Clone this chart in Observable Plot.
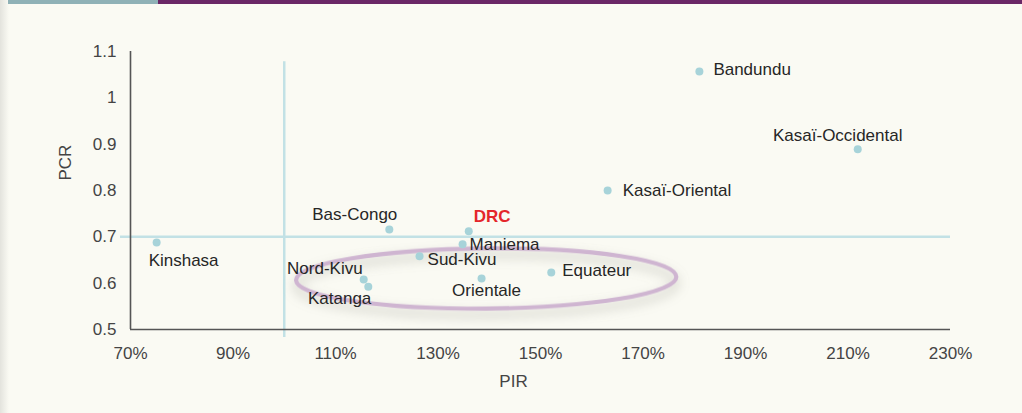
<!DOCTYPE html>
<html>
<head>
<meta charset="utf-8">
<script src="https://cdn.jsdelivr.net/npm/d3@7"></script>
<script src="https://cdn.jsdelivr.net/npm/@observablehq/plot@0.6"></script>
<style>
  html, body { margin: 0; padding: 0; background: #fafaf3; }
  #wrap { position: relative; width: 1022px; height: 413px; overflow: hidden; }
  #barA { position: absolute; left: 8px; top: 0; width: 150px; height: 4px; background: #8fb1b6; }
  #barB { position: absolute; left: 158px; top: 0; width: 864px; height: 4px; background: #6a2766; }
  #shade { position: absolute; left: 0; top: 0; width: 9px; height: 413px;
           background: linear-gradient(to right, #e3e3dd, #fafaf3); }
  #chart { position: absolute; left: 0; top: 0; }
</style>
</head>
<body>
<div id="wrap">
  <div id="shade"></div>
  <div id="barA"></div>
  <div id="barB"></div>
  <div id="chart"></div>
</div>
<script>
// ---- data ----
const regions = ["Kinshasa", "Bas-Congo", "DRC", "Maniema", "Sud-Kivu", "Nord-Kivu", "Katanga",
                 "Orientale", "Equateur", "Kasaï-Oriental", "Bandundu", "Kasaï-Occidental"];
const pir = [75.1, 120.5, 136.0, 134.8, 126.4, 115.5, 116.4, 138.5, 152.1, 163.1, 181.0, 211.9];
const pcr = [0.688, 0.716, 0.712, 0.684, 0.658, 0.608, 0.592, 0.610, 0.623, 0.800, 1.057, 0.889];
const xTicks = [70, 90, 110, 130, 150, 170, 190, 210, 230];
const yTicks = [0.5, 0.6, 0.7, 0.8, 0.9, 1.0, 1.1];
const pirThreshold = 100;
const pcrThreshold = 0.7;
const xLabel = "PIR";
const yLabel = "PCR";

// ---- label placement (style only) ----
const place = {
  "Kinshasa":         {anchor: "start",  dx: -8,  dy: 18},
  "Bas-Congo":        {anchor: "end",    dx: 8,   dy: -15},
  "DRC":              {anchor: "start",  dx: 5,   dy: -15},
  "Maniema":          {anchor: "start",  dx: 7,   dy: 0},
  "Sud-Kivu":         {anchor: "start",  dx: 8,   dy: 3},
  "Nord-Kivu":        {anchor: "end",    dx: -1,  dy: -11},
  "Katanga":          {anchor: "end",    dx: 3,   dy: 12},
  "Orientale":        {anchor: "middle", dx: 5,   dy: 12},
  "Equateur":         {anchor: "start",  dx: 11,  dy: -2},
  "Kasaï-Oriental":   {anchor: "start",  dx: 15,  dy: 0},
  "Bandundu":         {anchor: "start",  dx: 14,  dy: -2},
  "Kasaï-Occidental": {anchor: "middle", dx: -20, dy: -14}
};

const data = regions.map((name, i) => ({name, pir: pir[i], pcr: pcr[i]}));

const labelMarks = data.map(d => {
  const p = place[d.name];
  const isDRC = d.name === "DRC";
  return Plot.text([d], {
    x: "pir", y: "pcr", text: "name",
    textAnchor: p.anchor, dx: p.dx, dy: p.dy,
    fill: isDRC ? "#e4262b" : "#262626",
    fontWeight: isDRC ? "bold" : "normal"
  });
});

const plot = Plot.plot({
  width: 1022,
  height: 413,
  marginLeft: 130,
  marginRight: 72,
  marginTop: 51,
  marginBottom: 84,
  style: {fontFamily: "'Liberation Sans', Arial, sans-serif", fontSize: "17px", color: "#444", background: "transparent"},
  x: {domain: [70, 230], ticks: xTicks, tickFormat: d => d + "%", tickSize: 0, tickPadding: 17, label: null},
  y: {domain: [0.5, 1.1], ticks: yTicks, tickFormat: d => String(+d.toFixed(2)), tickSize: 0, tickPadding: 14, label: null},
  marks: [
    Plot.ruleX([pirThreshold], {y1: 1.078, y2: 0.5, insetBottom: -8, stroke: "#c2e1e5", strokeWidth: 2.5}),
    Plot.ruleY([pcrThreshold], {x1: 70, x2: 230, insetLeft: -10, stroke: "#c2e1e5", strokeWidth: 2.5}),
    Plot.ruleX([70], {y1: 0.5, y2: 1.1, stroke: "#555", strokeWidth: 1.6}),
    Plot.ruleY([0.5], {x1: 70, x2: 230, stroke: "#555", strokeWidth: 1.6}),
    Plot.dot(data, {x: "pir", y: "pcr", r: 4, fill: "#a7d3d9", stroke: "none"}),
    ...labelMarks,
    Plot.text([xLabel], {frameAnchor: "bottom", dx: -27, dy: 57, fill: "#444"}),
    Plot.text([yLabel], {frameAnchor: "left", dx: -65, dy: -10, rotate: -90, fill: "#444"})
  ]
});

document.getElementById("chart").appendChild(plot);

// ---- highlight ellipse annotation (positioned through the plot's scales) ----
const sx = plot.scale("x"), sy = plot.scale("y");
const ellCenter = {pir: 139.5, pcr: 0.609}, ellRadius = {pir: 37.1, pcr: 0.065};
const cx = sx.apply(ellCenter.pir), cy = sy.apply(ellCenter.pcr);
const rx = sx.apply(ellCenter.pir + ellRadius.pir) - cx;
const ry = cy - sy.apply(ellCenter.pcr + ellRadius.pcr);
const svg = d3.select(plot);
const defs = svg.insert("defs", ":first-child");
const f = defs.append("filter").attr("id", "ellShadow")
  .attr("x", "-20%").attr("y", "-80%").attr("width", "140%").attr("height", "260%");
f.append("feGaussianBlur").attr("in", "SourceAlpha").attr("stdDeviation", 6).attr("result", "b");
f.append("feOffset").attr("in", "b").attr("dx", 0).attr("dy", 6).attr("result", "o");
f.append("feFlood").attr("flood-color", "#8a8a80").attr("flood-opacity", 0.5);
f.append("feComposite").attr("in2", "o").attr("operator", "in").attr("result", "s");
const m = f.append("feMerge");
m.append("feMergeNode").attr("in", "s");
m.append("feMergeNode").attr("in", "SourceGraphic");
const firstDot = plot.querySelector('g[aria-label="dot"]');
const g = document.createElementNS("http://www.w3.org/2000/svg", "g");
plot.insertBefore(g, firstDot);
d3.select(g).append("ellipse")
  .attr("cx", cx).attr("cy", cy).attr("rx", rx).attr("ry", ry)
  .attr("transform", `rotate(-0.5 ${cx} ${cy})`)
  .attr("fill", "none").attr("stroke", "#cfb5d1").attr("stroke-width", 4.2)
  .attr("filter", "url(#ellShadow)");
</script>
</body>
</html>
